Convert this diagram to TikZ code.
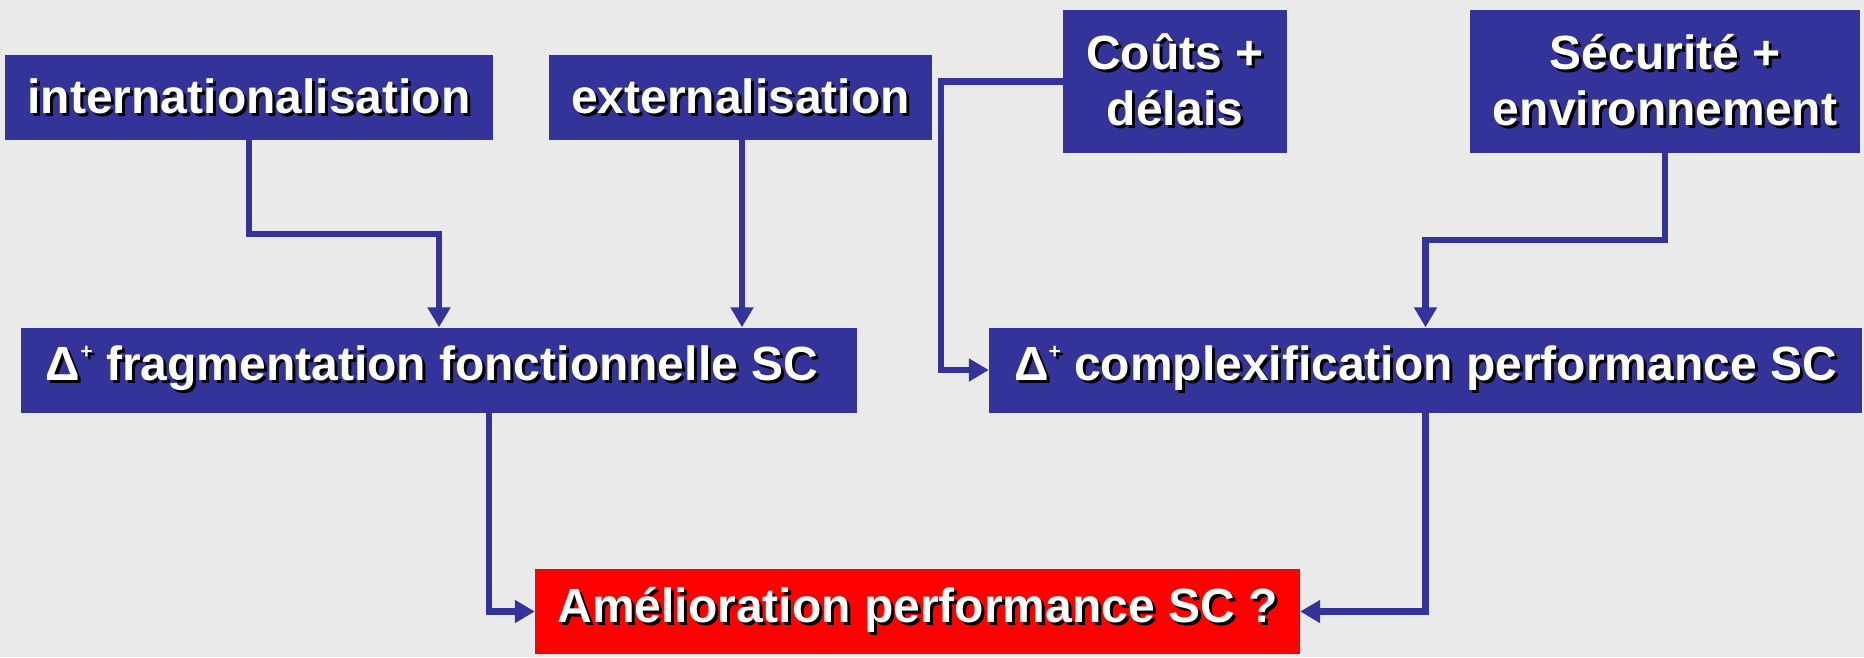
\documentclass[tikz,border=0pt]{standalone}
\usepackage{fontspec}
\setmainfont{Liberation Sans}
\usetikzlibrary{arrows.meta}
\definecolor{boxblue}{HTML}{333399}
\definecolor{bggray}{HTML}{EAEAEA}
\definecolor{boxred}{HTML}{FF0000}
\newcommand\sh[1]{\leavevmode\rlap{\kern3pt\raisebox{-3pt}{\color{black}#1}}#1}
\newcommand\supplus{\raisebox{22pt}{\fontsize{21}{21}\selectfont +}}
\begin{document}
\begin{tikzpicture}[x=1pt,y=-1pt,
  box/.style={fill=boxblue, text=white, font=\fontsize{48}{56}\selectfont\bfseries,
    align=center, inner sep=0pt, minimum height=85pt},
  conn/.style={draw=boxblue, line width=6.5pt, -{Triangle[length=20pt,width=22pt]}}]
\fill[bggray] (0,0) rectangle (1864,657);
\useasboundingbox (0,0) rectangle (1864,657);

\node[box, minimum width=488pt] (intl) at (249,97.5) {\sh{internationalisation}};
\node[box, minimum width=383pt] (ext) at (740.5,97.5) {\sh{externalisation}};
\node[box, minimum width=224pt, minimum height=143pt] (cout) at (1175,81.5) {\sh{Coûts +}\\\sh{délais}};
\node[box, minimum width=390pt, minimum height=143pt] (secu) at (1665,81.5) {\sh{Sécurité +}\\\sh{environnement}};
\node[box, minimum width=836pt] (frag) at (439,370) {\sh{Δ\supplus{} fragmentation fonctionnelle SC}\hspace{14pt}};
\node[box, minimum width=873pt] (comp) at (1425.5,370) {\sh{Δ\supplus{} complexification performance SC}};
\node[box, fill=boxred, minimum width=765pt] (amel) at (917.5,611.5) {\sh{Amélioration performance SC ?}};

\draw[conn] (intl.south) -- ++(0,94) -| (frag.north);
\draw[conn] ([xshift=1.5pt]ext.south) -- ([xshift=1.5pt]ext.south |- frag.north);
\draw[conn] (cout.west) -- ++(-122,0) |- (comp.west);
\draw[conn] (secu.south) -- ++(0,87) -| (comp.north);
\draw[conn] ([xshift=50pt]frag.south) |- (amel.west);
\draw[conn] (comp.south) |- (amel.east);
\end{tikzpicture}
\end{document}
